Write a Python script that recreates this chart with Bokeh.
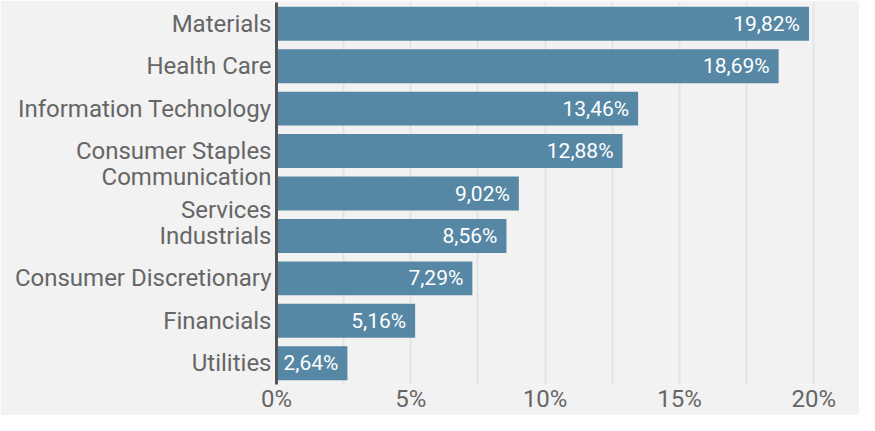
from bokeh.plotting import figure
from bokeh.models import ColumnDataSource, FactorRange, Range1d, FixedTicker, SingleIntervalTicker, PrintfTickFormatter
from bokeh.embed import file_html
from bokeh.resources import INLINE
from bokeh.core.properties import value

categories = ["Materials", "Health Care", "Information Technology", "Consumer Staples",
              "Communication\nServices", "Industrials", "Consumer Discretionary",
              "Financials", "Utilities"]
weights = [19.82, 18.69, 13.46, 12.88, 9.02, 8.56, 7.29, 5.16, 2.64]
x_ticks = [0, 5, 10, 15, 20]

labels = [f"{v:.2f}".replace(".", ",") + "%" for v in weights]

BG = "#f2f2f2"
BAR = "#5687a4"
TXT = "#666666"

src = ColumnDataSource(dict(cat=categories, val=weights, lab=labels))

p = figure(width=859, height=415, output_backend="svg", toolbar_location=None,
           y_range=FactorRange(factors=categories[::-1], range_padding=0),
           x_range=Range1d(0, 21.7),
           min_border_left=276, min_border_right=0, min_border_top=2, min_border_bottom=0)
p.background_fill_color = BG
p.border_fill_color = BG
p.outline_line_color = None

p.hbar(y="cat", right="val", left=0, height=0.8, source=src, color=BAR, line_color=None)
p.text(x="val", y="cat", text="lab", source=src, x_offset=-9, text_align="right",
       text_baseline="middle", text_color="white", text_font=value("Roboto"),
       text_font_size="21px")

# grid
p.ygrid.grid_line_color = None
p.xgrid.ticker = SingleIntervalTicker(interval=2.5)
p.xgrid.grid_line_color = "#e4e4e4"
p.xgrid.grid_line_width = 2

# x axis
p.xaxis.ticker = FixedTicker(ticks=x_ticks)
p.xaxis.formatter = PrintfTickFormatter(format="%d%%")
p.xaxis.axis_line_color = None
p.xaxis.major_tick_line_color = None
p.xaxis.minor_tick_line_color = None
p.xaxis.major_tick_out = 0
p.xaxis.major_tick_in = 0
p.xaxis.minor_tick_out = 0
p.xaxis.minor_tick_in = 0
p.xaxis.major_label_text_font = "Roboto"
p.xaxis.major_label_text_font_size = "24px"
p.xaxis.major_label_text_color = TXT
p.xaxis.major_label_standoff = 0

# y axis
p.yaxis.axis_line_color = "#555555"
p.yaxis.axis_line_width = 3
p.yaxis.major_tick_line_color = None
p.yaxis.minor_tick_line_color = None
p.yaxis.major_tick_out = 0
p.yaxis.major_tick_in = 0
p.yaxis.major_label_text_font = "Roboto"
p.yaxis.major_label_text_font_size = "24px"
p.yaxis.major_label_text_color = TXT
p.yaxis.major_label_standoff = 5

open("out.html", "w").write(file_html(p, INLINE))
